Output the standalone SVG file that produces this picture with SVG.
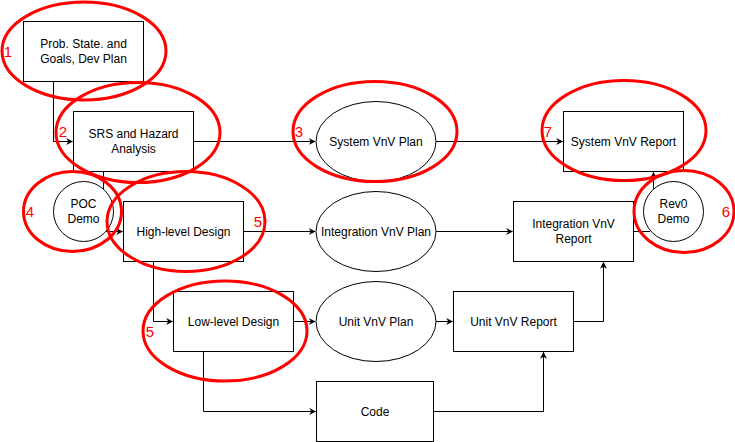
<svg xmlns="http://www.w3.org/2000/svg" width="735" height="442" viewBox="0 0 735 442">
<style>
.n{fill:#fff;stroke:#000;stroke-width:1}
.t{font-family:"Liberation Sans",Arial,sans-serif;font-size:12px;fill:#000;text-anchor:middle}
.e{fill:none;stroke:#000;stroke-width:1}
.r{fill:none;stroke:#f00;stroke-width:3}
.rl{font-family:"Liberation Sans",Arial,sans-serif;font-size:15px;fill:#f00;text-anchor:middle}
</style>
<defs>
<marker id="a" viewBox="0 0 10 10" refX="9" refY="5" markerWidth="7" markerHeight="7" markerUnits="userSpaceOnUse" orient="auto">
<path d="M0,0 L10,5 L0,10 L3,5 z" fill="#000"/>
</marker>
</defs>
<rect width="735" height="442" fill="#fff"/>
<g id="connectors">
<path class="e" d="M53.5 81.5 V141.5 H72.5" marker-end="url(#a)"/>
<path class="e" d="M193.5 141.5 H315" marker-end="url(#a)"/>
<path class="e" d="M436 141.5 H562.5" marker-end="url(#a)"/>
<path class="e" d="M103.5 171.5 V189"/>
<path class="e" d="M106 231.5 H122.5" marker-end="url(#a)"/>
<path class="e" d="M243.5 231.5 H315" marker-end="url(#a)"/>
<path class="e" d="M436 231.5 H512.5" marker-end="url(#a)"/>
<path class="e" d="M633.5 231.5 H650"/>
<path class="e" d="M653.5 189 V172.5" marker-end="url(#a)"/>
<path class="e" d="M153.5 261.5 V321.5 H172.5" marker-end="url(#a)"/>
<path class="e" d="M293.5 321.5 H315" marker-end="url(#a)"/>
<path class="e" d="M436 321.5 H452.5" marker-end="url(#a)"/>
<path class="e" d="M573.5 321.5 H603.5 V262.5" marker-end="url(#a)"/>
<path class="e" d="M203.5 351.5 V411.5 H315.5" marker-end="url(#a)"/>
<path class="e" d="M433.5 411.5 H543.5 V352.5" marker-end="url(#a)"/>
</g>
<g id="n1"><rect class="n" x="23.5" y="21.5" width="120" height="60"/><text class="t" x="83.5" y="47.5">Prob. State. and</text><text class="t" x="83.5" y="62.5">Goals, Dev Plan</text></g>
<g id="n2"><rect class="n" x="73.5" y="111.5" width="120" height="60"/><text class="t" x="133.5" y="138">SRS and Hazard</text><text class="t" x="133.5" y="152.5">Analysis</text></g>
<g id="n3"><ellipse class="n" cx="376" cy="141.5" rx="60" ry="40"/><text class="t" x="376" y="145.5">System VnV Plan</text></g>
<g id="n4"><rect class="n" x="563.5" y="111.5" width="120" height="60"/><text class="t" x="623.5" y="145.5">System VnV Report</text></g>
<g id="n5"><circle class="n" cx="83.5" cy="211.5" r="30"/><text class="t" x="83.5" y="207.5">POC</text><text class="t" x="83.5" y="222.5">Demo</text></g>
<g id="n6"><rect class="n" x="123.5" y="201.5" width="120" height="60"/><text class="t" x="183.5" y="235.5">High-level Design</text></g>
<g id="n7"><ellipse class="n" cx="376" cy="231.5" rx="60" ry="40"/><text class="t" x="376" y="235.5">Integration VnV Plan</text></g>
<g id="n8"><rect class="n" x="513.5" y="201.5" width="120" height="60"/><text class="t" x="573.5" y="228">Integration VnV</text><text class="t" x="573.5" y="242.5">Report</text></g>
<g id="n9"><circle class="n" cx="673.5" cy="211.5" r="30"/><text class="t" x="673.5" y="207.5">Rev0</text><text class="t" x="673.5" y="222.5">Demo</text></g>
<g id="n10"><rect class="n" x="173.5" y="291.5" width="120" height="60"/><text class="t" x="233.5" y="325.5">Low-level Design</text></g>
<g id="n11"><ellipse class="n" cx="376" cy="321.5" rx="60" ry="40"/><text class="t" x="376" y="325.5">Unit VnV Plan</text></g>
<g id="n12"><rect class="n" x="453.5" y="291.5" width="120" height="60"/><text class="t" x="513.5" y="325.5">Unit VnV Report</text></g>
<g id="n13"><rect class="n" x="316.5" y="381.5" width="117" height="60"/><text class="t" x="375" y="415.5">Code</text></g>
<g id="highlights">
<ellipse class="r" cx="84" cy="51" rx="82" ry="49"/>
<text class="rl" x="8" y="57">1</text>
<ellipse class="r" cx="138" cy="132.5" rx="82" ry="50"/>
<text class="rl" x="63" y="137">2</text>
<ellipse class="r" cx="375" cy="131.5" rx="82" ry="50"/>
<text class="rl" x="299" y="137">3</text>
<ellipse class="r" cx="72.5" cy="211.5" rx="49" ry="40"/>
<text class="rl" x="30" y="217">4</text>
<ellipse class="r" cx="186" cy="221.5" rx="79" ry="50"/>
<text class="rl" x="258" y="227">5</text>
<ellipse class="r" cx="225" cy="331" rx="82" ry="50"/>
<text class="rl" x="150" y="337">5</text>
<ellipse class="r" cx="684" cy="211.5" rx="50" ry="41"/>
<text class="rl" x="726" y="217">6</text>
<ellipse class="r" cx="624" cy="130.5" rx="82" ry="50"/>
<text class="rl" x="548" y="137">7</text>
</g>
</svg>
